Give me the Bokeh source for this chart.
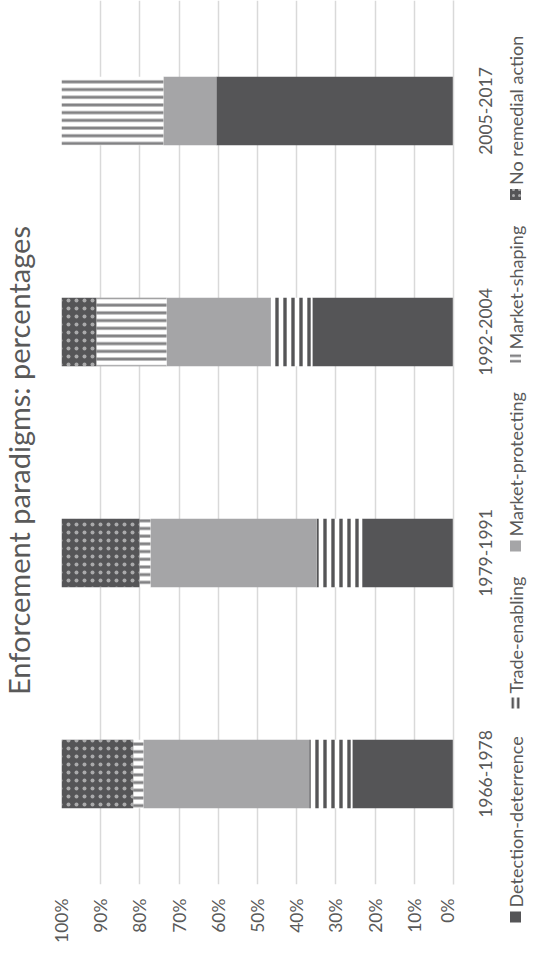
import math
from bokeh.plotting import figure
from bokeh.models import (ColumnDataSource, FactorRange, Range1d, FixedTicker,
                          PrintfTickFormatter, BoxAnnotation, Label)
from bokeh.layouts import row
from bokeh.embed import file_html
from bokeh.resources import INLINE
from bokeh.core.properties import value

# ---------------- data ----------------
periods = ["1966-1978", "1979-1991", "1992-2004", "2005-2017"]
series = ["Detection-deterrence", "Trade-enabling", "Market-protecting",
          "Market-shaping", "No remedial action"]
detection_deterrence = [25.8, 23.3, 36.0, 60.5]
trade_enabling = [11.0, 11.6, 10.6, 0.0]
market_protecting = [42.3, 42.4, 26.6, 13.5]
market_shaping = [2.6, 2.8, 17.9, 26.0]
no_remedial_action = [18.3, 19.9, 8.9, 0.0]
pct_ticks = [0, 10, 20, 30, 40, 50, 60, 70, 80, 90, 100]
title_text = "Enforcement paradigms: percentages"

# ---------------- styles ----------------
FONT = "Lato"
TXT = "#595959"
DARK = "#555557"
GRAY = "#a5a5a7"
STRIPE = "#828284"
GRID = "#d9d9d9"

keys = ["dd", "te", "mp", "ms", "nr"]
fills = [DARK, "white", GRAY, "white", DARK]
hatches = [None, "vertical_line", None, "horizontal_line", "dot"]
hatch_colors = [DARK, DARK, GRAY, STRIPE, "white"]
hatch_alphas = [1.0, 1.0, 1.0, 1.0, 0.5]
hatch_scales = [8, 8, 8, 7.7, 8]
hatch_weights = [1, 3.4, 1, 3.0, 1.0]

H = 954
B0 = 70                      # bottom border of the chart frame
W_TITLE, W_MAIN, W_CAT, W_LEG = 40, 417, 41, 30
PAGE_REF = H + 8             # strips use y = PAGE_REF - page y (1 unit = 1 px)


def strip(width, y_range, bottom):
    f = figure(width=width, height=H, x_range=Range1d(0, width), y_range=y_range,
               x_axis_location=None, y_axis_location=None,
               output_backend="svg", toolbar_location=None, title=None,
               min_border=0, min_border_left=0, min_border_right=0,
               min_border_top=0, min_border_bottom=bottom)
    f.grid.visible = False
    f.outline_line_color = None
    return f


def free_strip(width):
    """A strip whose frame covers the full height (not aligned with the chart frame)."""
    probe = figure(width=10, height=10)
    can_free = "frame_align" in probe.properties()
    if can_free:
        f = strip(width, Range1d(0, H), 0)
        f.frame_align = False
        return f, 0
    f = strip(width, Range1d(B0, H), B0)
    return f, 42


# ---------------- title strip ----------------
tf, _ = free_strip(W_TITLE)
TITLE_CY = 468  # page y of the title centre (layout)
tf.text(x=[18], y=[PAGE_REF - TITLE_CY], text=[title_text], angle=math.pi / 2,
        text_align="center", text_baseline="middle", text_font=value(FONT),
        text_font_size="29px", text_color=TXT)

# ---------------- main chart ----------------
src = ColumnDataSource(dict(period=periods, dd=detection_deterrence, te=trade_enabling,
                            mp=market_protecting, ms=market_shaping, nr=no_remedial_action))

p = figure(width=W_MAIN, height=H, x_range=Range1d(100, 0), y_range=FactorRange(*periods),
           y_axis_location="right", output_backend="svg", toolbar_location=None,
           title=None, min_border_left=21, min_border_right=4, min_border_top=0,
           min_border_bottom=B0)
p.outline_line_color = None

p.hbar_stack(keys, y="period", height=0.31, source=src, fill_color=fills,
             line_color=None, hatch_pattern=hatches, hatch_color=hatch_colors,
             hatch_alpha=hatch_alphas, hatch_scale=hatch_scales,
             hatch_weight=hatch_weights)

p.xaxis.ticker = FixedTicker(ticks=pct_ticks)
p.xaxis.formatter = PrintfTickFormatter(format="%d%%")
p.xaxis.major_label_orientation = math.pi / 2
p.xaxis.axis_line_color = None
p.xaxis.major_tick_line_color = None
p.xaxis.minor_tick_line_color = None
p.xaxis.major_tick_out = 0
p.xaxis.minor_tick_out = 0
p.xaxis.axis_label_standoff = 0
p.xaxis.major_label_standoff = 14
p.xaxis.major_label_text_font = FONT
p.xaxis.major_label_text_font_size = "17.5px"
p.xaxis.major_label_text_color = TXT

# right axis: only its line (the category labels are set in their own strip)
p.yaxis.axis_line_color = GRID
p.yaxis.axis_line_width = 1.5
p.yaxis.major_tick_line_color = None
p.yaxis.minor_tick_line_color = None
p.yaxis.major_tick_out = 0
p.yaxis.minor_tick_out = 0
p.yaxis.major_label_text_font_size = "1px"
p.yaxis.major_label_text_color = None
p.yaxis.major_label_standoff = 0

p.xgrid.grid_line_color = GRID
p.xgrid.grid_line_width = 1.5
p.ygrid.grid_line_color = None

# ---------------- category labels (centred on each band, aligned with the chart frame) ----
cf = strip(W_CAT, FactorRange(*periods), B0)
cf.text(x=[28] * len(periods), y=periods, text=periods, angle=math.pi / 2,
        text_align="center", text_baseline="middle", text_font=value(FONT),
        text_font_size="17.5px", text_color=TXT)

# ---------------- legend (rotated, in its own full-height strip) ----------------
leg_marker_bottom = [930, 716, 559, 372, 207.5]   # page y of each swatch's lower edge
LX = 17
leg, shift = free_strip(W_LEG)
for i, name in enumerate(series):
    yb = PAGE_REF - leg_marker_bottom[i] + shift
    striped = hatches[i] in ("vertical_line", "horizontal_line")
    leg.add_layout(BoxAnnotation(
        left=LX - 5.5, right=LX + 5.5, bottom=yb, top=yb + 11,
        fill_color=fills[i], fill_alpha=1.0, line_color=None,
        hatch_pattern=hatches[i], hatch_color=hatch_colors[i],
        hatch_alpha=hatch_alphas[i],
        hatch_scale=5.5 if striped else (6 if hatches[i] else hatch_scales[i]),
        hatch_weight=2.5 if striped else hatch_weights[i]))
    leg.add_layout(Label(x=LX, y=yb + 15, text=name, angle=math.pi / 2,
                         text_align="left", text_baseline="middle", text_font=FONT,
                         text_font_size="18px", text_color=TXT))

layout = row(tf, p, cf, leg, spacing=0)
open("out.html", "w").write(file_html(layout, INLINE))
